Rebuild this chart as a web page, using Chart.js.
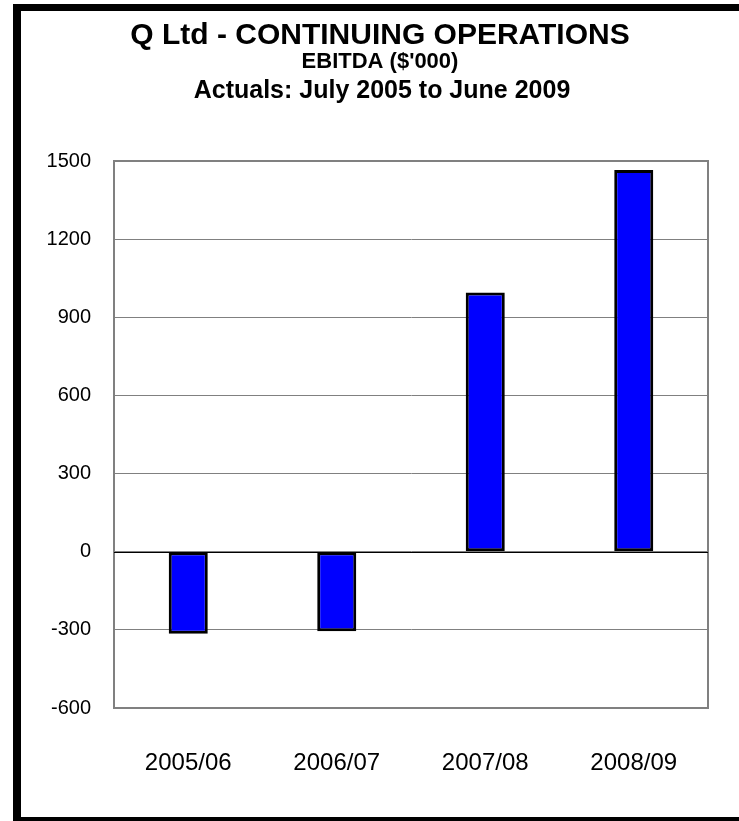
<!DOCTYPE html>
<html>
<head>
<meta charset="utf-8">
<script src="https://cdn.jsdelivr.net/npm/chart.js@4.4.0/dist/chart.umd.min.js"></script>
<style>
  html, body { margin: 0; padding: 0; background: #fff; }
  #wrap { position: relative; width: 739px; height: 821px; }
</style>
</head>
<body>
<div id="wrap"><canvas id="chart" width="739" height="821"></canvas></div>
<script>
// chart data
const categories = ['2005/06', '2006/07', '2007/08', '2008/09'];
const ebitda = [-315, -305, 995, 1465];
const yMin = -600;
const yMax = 1500;
const yStep = 300;
const titleLines = [
  'Q Ltd - CONTINUING OPERATIONS',
  "EBITDA ($'000)",
  'Actuals: July 2005 to June 2009'
];

const FONT = '"Liberation Sans", Arial, Helvetica, sans-serif';

// frame + header text + plot border
const decor = {
  id: 'decor',
  beforeDraw(chart) {
    const c = chart.ctx;
    c.save();
    c.fillStyle = '#fff';
    c.fillRect(0, 0, chart.width, chart.height);
    c.fillStyle = '#000';
    c.fillRect(13, 4, chart.width - 13, 7);   // top
    c.fillRect(13, 4, 8, chart.height - 4);    // left
    c.fillRect(13, 817, chart.width - 13, 4);  // bottom
    c.textAlign = 'center';
    c.textBaseline = 'alphabetic';
    c.font = 'bold 30px ' + FONT;
    c.fillText(titleLines[0], 380, 44);
    c.font = 'bold 22px ' + FONT;
    c.fillText(titleLines[1], 380, 68);
    c.font = 'bold 25px ' + FONT;
    c.fillText(titleLines[2], 382, 98);
    c.restore();
  },
  afterDatasetsDraw(chart) {
    const a = chart.chartArea;
    const c = chart.ctx;
    c.save();
    c.strokeStyle = '#808080';
    c.lineWidth = 2;
    c.strokeRect(a.left, a.top, a.right - a.left, a.bottom - a.top);
    // zero line on top
    const y0 = Math.round(chart.scales.y.getPixelForValue(0)) + 0.5;
    c.strokeStyle = '#000';
    c.lineWidth = 1;
    c.beginPath();
    c.moveTo(a.left, y0);
    c.lineTo(a.right, y0);
    c.stroke();
    c.restore();
  }
};

new Chart(document.getElementById('chart'), {
  type: 'bar',
  data: {
    labels: categories,
    datasets: [{
      data: ebitda,
      backgroundColor: '#0000FF',
      borderColor: '#000000',
      borderWidth: 3,
      borderSkipped: false,
      categoryPercentage: 1,
      barPercentage: 0.263
    }]
  },
  options: {
    responsive: false,
    animation: false,
    layout: { padding: { top: 161, right: 31, bottom: 0, left: 0 } },
    plugins: {
      legend: { display: false },
      tooltip: { enabled: false },
      title: { display: false }
    },
    scales: {
      x: {
        grid: { display: false, drawTicks: false },
        border: { display: false },
        ticks: { color: '#000', padding: 41, font: { family: FONT, size: 24 } },
        afterFit(s) { s.height = 113; }
      },
      y: {
        min: yMin,
        max: yMax,
        grid: {
          drawTicks: false,
          color: '#808080',
          lineWidth: 1
        },
        border: { display: true, color: '#808080', width: 2 },
        ticks: {
          stepSize: yStep,
          color: '#000',
          padding: 23,
          font: { family: FONT, size: 20 },
          callback: (v) => String(v)
        },
        afterFit(s) { s.width = 114; }
      }
    }
  },
  plugins: [decor]
});
</script>
</body>
</html>
